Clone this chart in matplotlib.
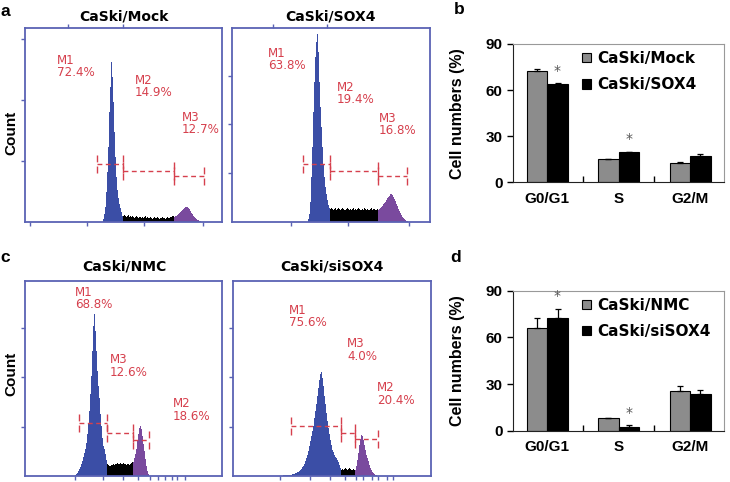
import numpy as np
import matplotlib
matplotlib.use('Agg')
import matplotlib.pyplot as plt

W, H = 730, 482

# ---- histogram data: counts per channel ----
mock_start = 78
mock_counts = [3, 8, 15, 30, 50, 75, 110, 135, 160, 145, 120, 90, 65, 45, 32, 24, 18, 14, 10, 6,
               6, 7, 6, 5, 6, 7, 5, 6, 5, 6, 5, 4, 5, 6, 5, 4, 5, 5, 4, 5,
               4, 5, 6, 4, 5, 4, 4, 5, 4, 3, 4, 5, 4, 4, 5, 4, 3, 4, 4, 5,
               4, 4, 3, 4, 5, 4, 4, 5, 5, 6, 6,
               5, 6, 6, 7, 8, 9, 10, 11, 12, 13, 14, 15, 15, 15, 14, 13, 11, 9, 8, 6,
               5, 4, 3, 2, 2, 1, 1]
mock_gates = [(72, 98, 58), (98, 149, 51), (149, 179, 46)]
mock_names = ['M1', 'M2', 'M3']
mock_pct = ['72.4%', '14.9%', '12.7%']

sox4_start = 76
sox4_counts = [3, 8, 20, 45, 75, 110, 140, 165, 180, 188, 170, 140, 115, 95, 75, 58, 45, 35, 28, 22, 17, 14,
               13, 14, 13, 12, 13, 14, 12, 13, 14, 13, 12, 13, 14, 13, 12, 12, 13, 14, 13, 12,
               13, 12, 13, 14, 12, 13, 12, 13, 14, 13, 12, 12, 13, 12, 14, 13, 12, 13, 12, 12,
               13, 14, 12, 13, 13, 12, 12, 13,
               12, 13, 14, 15, 16, 18, 19, 20, 22, 24, 25, 26, 28, 28, 27, 25, 23, 21, 18, 16,
               13, 11, 9, 7, 5, 4, 3, 2, 1, 1]
sox4_gates = [(71, 98, 58), (98, 146, 51), (146, 175, 46)]
sox4_names = ['M1', 'M2', 'M3']
sox4_pct = ['63.8%', '19.4%', '16.8%']

nmc_start = 50
nmc_counts = [1, 2, 3, 5, 7, 9, 12, 15, 19, 23, 27, 33, 42, 52, 65, 82, 100, 125, 150, 162,
              145, 125, 105, 90, 78, 62, 50, 38, 30, 27, 22, 16,
              12, 11, 10, 10, 11, 11, 12, 11, 12, 12, 13, 12, 12, 13, 12, 12, 13, 12, 12, 11,
              12, 12, 11, 12, 13, 14,
              14, 18, 22, 27, 35, 42, 48, 50, 47, 40, 32, 25, 17, 10, 5, 2]
nmc_gates = [(54, 82, 53), (82, 108, 43), (108, 124, 36)]
nmc_names = ['M1', 'M3', 'M2']
nmc_pct = ['68.8%', '12.6%', '18.6%']

sisox4_start = 50
sisox4_counts = [1, 1, 1, 1, 1, 1, 1, 1, 1, 2, 2, 2, 3, 3, 4, 4, 5, 6, 7, 9,
                 10, 12, 15, 18, 21, 25, 30, 35, 40, 45, 50, 58, 65, 72, 80, 88, 96, 102, 104, 98,
                 90, 80, 72, 63, 55, 48, 42, 36, 31, 26, 24, 21, 19, 18, 16, 14, 11, 8,
                 6, 7, 6, 7, 8, 7, 6, 7, 8, 7, 6, 6, 7, 6,
                 6, 10, 16, 23, 31, 37, 41, 40, 36, 31, 26, 21, 18, 15, 11, 8, 6, 4, 3, 2, 1, 1]
sisox4_gates = [(58, 108, 50), (108, 122, 43), (122, 145, 37)]
sisox4_names = ['M1', 'M3', 'M2']
sisox4_pct = ['75.6%', '4.0%', '20.4%']

# ---- bar chart data ----
phases = ['G0/G1', 'S', 'G2/M']
mock_bar = [72.4, 14.9, 12.7]
mock_err = [1.2, 0.4, 0.8]
sox4_bar = [63.8, 19.4, 16.8]
sox4_err = [0.6, 0.4, 1.6]
nmc_bar = [66.2, 8.0, 25.7]
nmc_err = [6.5, 0.4, 3.2]
sisox4_bar = [72.3, 2.6, 23.6]
sisox4_err = [6.0, 0.8, 2.6]
sig_b = [0, 1]
sig_d = [0, 1]

BLUE = '#3b4ea6'
PURPLE = '#7a4a9e'
FRAME = '#5a62b4'
RED = '#d6404d'
GRAY = '#8c8c8c'
ARIAL = 'Liberation Sans'


def px_axes(fig, x0, y0, x1, y1):
    return fig.add_axes([x0 / W, 1 - y1 / H, (x1 - x0) / W, (y1 - y0) / H])


def draw_hist(ax, start, counts, gates, names, pct, label_xy, bticks, lticks, tticks=None):
    counts = np.array(counts, float)
    end = start + len(counts)
    edges = np.arange(start, end + 1)
    s1, s2 = gates[0][1], gates[1][1]
    for lo, hi, col in [(start, s1, BLUE), (s1, s2, 'black'), (s2, end, PURPLE)]:
        i0, i1 = lo - start, hi - start
        ax.stairs(counts[i0:i1], edges[i0:i1 + 1], fill=True, color=col, lw=0)
    for g0, g1, h in gates:
        ax.plot([g0, g1], [h, h], color=RED, lw=1, dashes=(3.5, 2.5))
        for gx in (g0, g1):
            ax.plot([gx, gx], [h - 9, h + 9], color=RED, lw=1, dashes=(5, 3))
    for (tx, ty), n, p in zip(label_xy, names, pct):
        ax.text(tx, ty, n + '\n' + p, color=RED, fontsize=8.6, ha='left', va='top',
                linespacing=0.95)
    for s in ax.spines.values():
        s.set_color(FRAME)
        s.set_linewidth(1.3)
    ax.set_xticks(bticks)
    ax.set_yticks(lticks)
    ax.tick_params(length=3, color=FRAME, width=1, labelbottom=False, labelleft=False)
    if tticks is not None:
        sec = ax.secondary_xaxis('top')
        sec.set_xticks(tticks)
        sec.tick_params(length=3, color=FRAME, width=1, labeltop=False)
        sec.spines['top'].set_visible(False)


def draw_bars(ax, v1, e1, v2, e2, labels, sig):
    x = np.arange(len(phases))
    w = 0.287
    ekw = dict(elinewidth=0.9, capthick=0.9, ecolor='black')
    ax.bar(x - w / 2, v1, w, color=GRAY, edgecolor='black', lw=0.8,
           yerr=[np.zeros(len(v1)), e1], capsize=2.5, error_kw=ekw, label=labels[0])
    ax.bar(x + w / 2, v2, w, color='black', edgecolor='black', lw=0.8,
           yerr=[np.zeros(len(v2)), e2], capsize=2.5, error_kw=ekw, label=labels[1])
    for i in sig:
        ax.annotate('*', (x[i] + w / 2, v2[i] + e2[i]), xytext=(0, 9),
                    textcoords='offset points', ha='center', va='center',
                    color='#555555', fontsize=10)
    ax.set_xlim(-0.487, 2.469)
    ax.set_ylim(0, 90)
    ax.set_yticks([0, 30, 60, 90])
    ax.set_xticks(x)
    ax.set_xticklabels(phases)
    ax.set_xticks([0.5, 1.5], minor=True)
    ax.tick_params(axis='x', which='major', length=0, pad=7)
    ax.tick_params(axis='x', which='minor', length=4, direction='in', width=1)
    ax.tick_params(axis='y', length=4, direction='out', width=1, pad=3)
    for lab in ax.get_xticklabels() + ax.get_yticklabels():
        lab.set_fontfamily(ARIAL)
        lab.set_fontweight('bold')
        lab.set_fontsize(11)
    for k in ['left', 'bottom']:
        ax.spines[k].set_color('#222222')
    for k in ['top', 'right']:
        ax.spines[k].set_color('#999999')
    ax.set_ylabel('Cell numbers (%)', fontfamily=ARIAL, fontweight='bold', fontsize=11.5)
    ax.yaxis.set_label_coords(-0.225, 0.5)
    ax.legend(loc='upper left', bbox_to_anchor=(0.33, 0.95), frameon=False, borderpad=0,
              borderaxespad=0, handlelength=0.55, handleheight=0.55, handletextpad=0.45,
              labelspacing=0.75, prop=dict(family='DejaVu Sans', weight='bold', size=11))


fig = plt.figure(figsize=(W / 100, H / 100), dpi=100)

ax_a1 = px_axes(fig, 25, 28, 222, 222)
ax_a1.set_xlim(0, 197)
ax_a1.set_ylim(0, 194)
draw_hist(ax_a1, mock_start, mock_counts, mock_gates, mock_names, mock_pct,
          [(32, 168), (110, 148), (157, 111)], [5, 62, 119, 178], [61, 122, 183], [43, 98])

ax_a2 = px_axes(fig, 232, 28, 430, 222)
ax_a2.set_xlim(0, 198)
ax_a2.set_ylim(0, 194)
draw_hist(ax_a2, sox4_start, sox4_counts, sox4_gates, sox4_names, sox4_pct,
          [(36, 175), (105, 141), (147, 110)], [59, 116, 177], [49, 98, 146], [41, 95])

ax_c1 = px_axes(fig, 25, 281, 222, 476)
ax_c1.set_xlim(0, 197)
ax_c1.set_ylim(0, 195)
draw_hist(ax_c1, nmc_start, nmc_counts, nmc_gates, nmc_names, nmc_pct,
          [(50, 190), (85, 123), (148, 79)],
          [50, 78, 98, 113, 125, 133, 140, 147, 152, 160], [49, 99, 148])

ax_c2 = px_axes(fig, 233, 281, 431, 476)
ax_c2.set_xlim(0, 198)
ax_c2.set_ylim(0, 195)
draw_hist(ax_c2, sisox4_start, sisox4_counts, sisox4_gates, sisox4_names, sisox4_pct,
          [(56, 172), (114, 139), (144, 95)],
          [47, 77, 97, 112, 123, 130, 139, 145, 154, 160], [49, 99, 148])

ax_b = px_axes(fig, 512.5, 44, 723.5, 182.3)
draw_bars(ax_b, mock_bar, mock_err, sox4_bar, sox4_err, ['CaSki/Mock', 'CaSki/SOX4'], sig_b)

ax_d = px_axes(fig, 512.5, 290.7, 723.5, 430.7)
draw_bars(ax_d, nmc_bar, nmc_err, sisox4_bar, sisox4_err, ['CaSki/NMC', 'CaSki/siSOX4'], sig_d)

# titles, axis names, panel letters
for cx, cy, t in [(124, 16, 'CaSki/Mock'), (330, 16, 'CaSki/SOX4'),
                  (124, 267, 'CaSki/NMC'), (332, 267, 'CaSki/siSOX4')]:
    fig.text(cx / W, 1 - cy / H, t, ha='center', va='center', fontsize=10,
             fontweight='bold', family='DejaVu Sans')
for cy in (133, 374):
    fig.text(11 / W, 1 - cy / H, 'Count', rotation=90, ha='center', va='center',
             fontsize=11, fontweight='bold', family=ARIAL)
for cx, cy, t in [(5, 11, 'a'), (459, 10, 'b'), (5, 258, 'c'), (456, 258, 'd')]:
    fig.text(cx / W, 1 - cy / H, t, ha='center', va='center', fontsize=12.5,
             fontweight='bold', family=ARIAL)

fig.savefig('out.png', dpi=100)
